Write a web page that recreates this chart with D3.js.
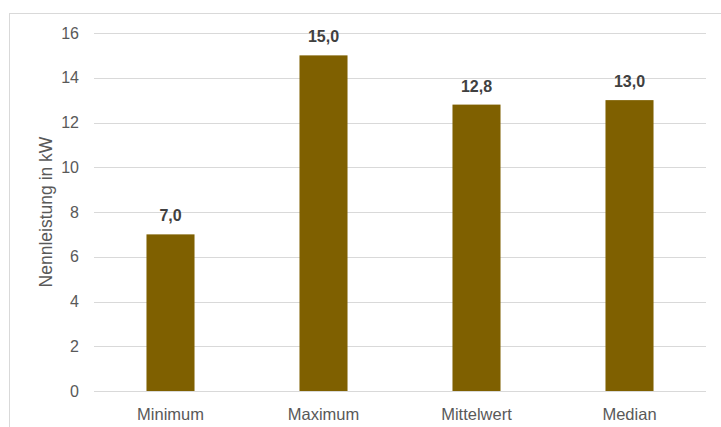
<!DOCTYPE html>
<html>
<head>
<meta charset="utf-8">
<script src="https://cdn.jsdelivr.net/npm/d3@7/dist/d3.min.js"></script>
<style>
  html, body { margin: 0; padding: 0; background: #fff; }
  svg { display: block; font-family: "Liberation Sans", Arial, sans-serif; }
</style>
</head>
<body>
<svg id="chart" width="721" height="427"></svg>
<script>
// Kennwerte der Nennleistung (kW)
const categories = ["Minimum", "Maximum", "Mittelwert", "Median"];
const values = [7.0, 15.0, 12.8, 13.0];
const yTicks = [0, 2, 4, 6, 8, 10, 12, 14, 16];
const yTitle = "Nennleistung in kW";

const svg = d3.select("#chart");
const W = 721, H = 427;
const plot = { left: 94, right: 706, top: 33, bottom: 391 };

// Rahmen des Diagrammbereichs
svg.append("rect")
  .attr("x", 9.5).attr("y", 13.5)
  .attr("width", W).attr("height", H)
  .attr("fill", "#fff")
  .attr("stroke", "#d9d9d9")
  .attr("stroke-width", 1);

const x = d3.scaleBand()
  .domain(categories)
  .range([plot.left, plot.right])
  .paddingInner(0.686)
  .paddingOuter(0.343);

const y = d3.scaleLinear()
  .domain([0, 16])
  .range([plot.bottom, plot.top]);

// Gitterlinien
svg.append("g")
  .selectAll("line")
  .data(yTicks)
  .join("line")
  .attr("x1", plot.left).attr("x2", plot.right)
  .attr("y1", d => Math.round(y(d)) + 0.5)
  .attr("y2", d => Math.round(y(d)) + 0.5)
  .attr("stroke", "#d9d9d9")
  .attr("stroke-width", 1);

// Y-Achse (Beschriftungen)
const yAxis = d3.axisLeft(y)
  .tickValues(yTicks)
  .tickSize(0)
  .tickPadding(0)
  .tickFormat(d3.format("d"));

const gy = svg.append("g")
  .attr("transform", `translate(79,0)`)
  .call(yAxis);
gy.select(".domain").remove();
gy.selectAll("text")
  .attr("fill", "#595959")
  .style("font-size", "16px")
  .style("font-family", "'Liberation Sans', Arial, sans-serif");

// X-Achse (Kategorien)
const xAxis = d3.axisBottom(x).tickSize(0).tickPadding(0);
const gx = svg.append("g")
  .attr("transform", `translate(0,${plot.bottom})`)
  .call(xAxis);
gx.select(".domain").remove();
gx.selectAll("text")
  .attr("dy", null)
  .attr("y", 29)
  .attr("fill", "#595959")
  .style("font-size", "16.5px")
  .style("font-family", "'Liberation Sans', Arial, sans-serif");

// Balken
svg.append("g")
  .selectAll("rect")
  .data(values)
  .join("rect")
  .attr("x", (d, i) => x(categories[i]))
  .attr("y", d => y(d))
  .attr("width", x.bandwidth())
  .attr("height", d => y(0) - y(d))
  .attr("fill", "#7f6000");

// Wertebeschriftungen
const fmt = d => d.toFixed(1).replace(".", ",");
svg.append("g")
  .selectAll("text")
  .data(values)
  .join("text")
  .attr("x", (d, i) => x(categories[i]) + x.bandwidth() / 2)
  .attr("y", d => y(d) - 13)
  .attr("text-anchor", "middle")
  .attr("fill", "#404040")
  .style("font-size", "16px")
  .style("font-weight", "bold")
  .text(fmt);

// Achsentitel
svg.append("text")
  .attr("transform", `translate(52,${(plot.top + plot.bottom) / 2}) rotate(-90)`)
  .attr("text-anchor", "middle")
  .attr("fill", "#595959")
  .style("font-size", "17.5px")
  .text(yTitle);
</script>
</body>
</html>
